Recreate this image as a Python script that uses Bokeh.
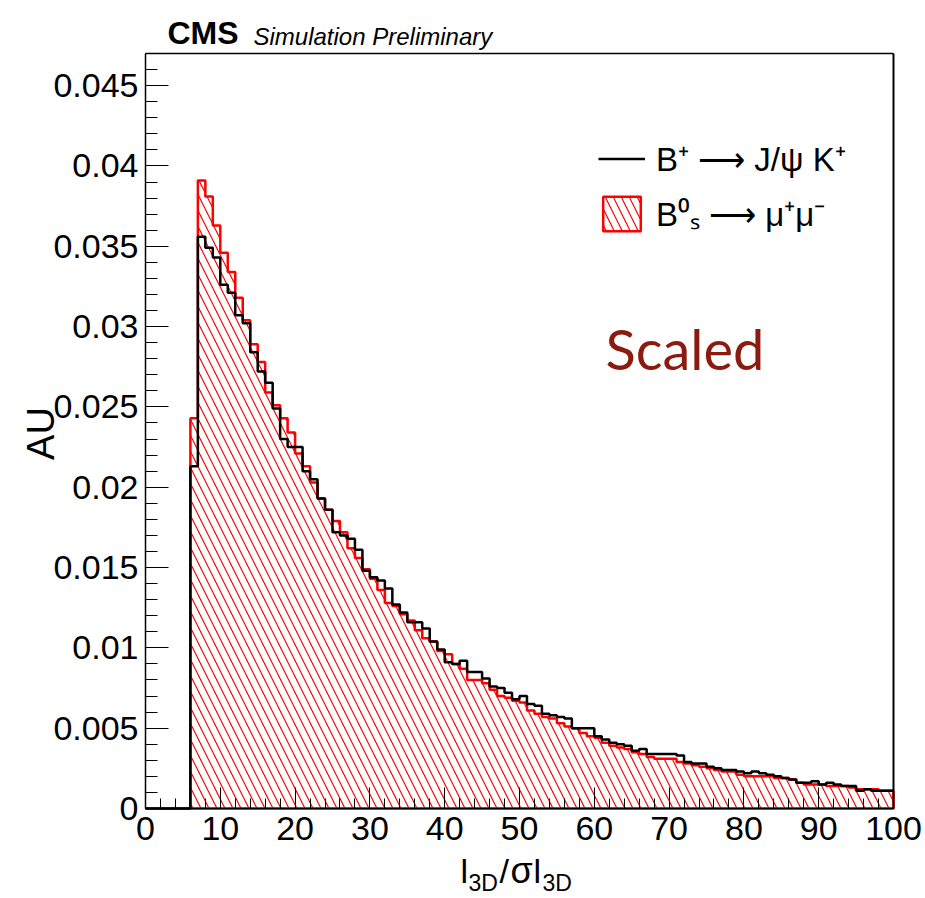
import numpy as np
from bokeh.plotting import figure
from bokeh.models import (Range1d, FixedTicker, CustomJSTickFormatter,
                          Label, Legend, LegendItem, LinearAxis)
from bokeh.embed import file_html
from bokeh.resources import INLINE

# ---------------- data ----------------
bin_edges = list(range(0, 101))          # 100 bins of width 1, 0..100
# B+ -> J/psi K+   (bins 0..99)
bplus = [0, 0, 0, 0, 0, 0,
         0.0213, 0.0356, 0.0349, 0.0343, 0.0326, 0.0321, 0.0307, 0.0302, 0.0284, 0.0272,
         0.0265, 0.0249, 0.0230, 0.0225, 0.0225, 0.0210, 0.0205, 0.0193, 0.0186, 0.0172,
         0.0170, 0.0168, 0.0161, 0.0148, 0.0144, 0.0142, 0.0137, 0.0127, 0.0122, 0.0116,
         0.0116, 0.0112, 0.0104, 0.0099, 0.0091, 0.0090, 0.0092, 0.0085, 0.0085, 0.0081,
         0.0076, 0.0075, 0.0072, 0.0068, 0.0070, 0.0065, 0.0064, 0.0059, 0.0058, 0.0057,
         0.0056, 0.0050, 0.0050, 0.0050, 0.0045, 0.0043, 0.0041, 0.0040, 0.0039, 0.0036,
         0.0037, 0.0034, 0.0034, 0.0034, 0.0034, 0.0033, 0.0029, 0.0028, 0.0028, 0.0026,
         0.0025, 0.0024, 0.0024, 0.0023, 0.0022, 0.0023, 0.0022, 0.0021, 0.0020, 0.0019,
         0.0018, 0.0016, 0.0016, 0.0017, 0.0015, 0.0016, 0.0015, 0.0014, 0.0014, 0.0011,
         0.0012, 0.0011, 0.0011, 0.0011]
# Bs0 -> mu+ mu-   (bins 0..99)
bsmumu = [0, 0, 0, 0, 0, 0,
          0.0243, 0.0391, 0.0381, 0.0363, 0.0346, 0.0334, 0.0318, 0.0304, 0.0289, 0.0278,
          0.0259, 0.0251, 0.0243, 0.0234, 0.0221, 0.0213, 0.0203, 0.0193, 0.0186, 0.0179,
          0.0172, 0.0162, 0.0156, 0.0149, 0.0143, 0.0136, 0.0128, 0.0126, 0.0121, 0.0117,
          0.0111, 0.0106, 0.0104, 0.0098, 0.0096, 0.0090, 0.0087, 0.0080, 0.0080, 0.0078,
          0.0074, 0.0070, 0.0069, 0.0067, 0.0066, 0.0061, 0.0059, 0.0057, 0.0056, 0.0053,
          0.0051, 0.0050, 0.0047, 0.0045, 0.0044, 0.0041, 0.0039, 0.0038, 0.0037, 0.0035,
          0.0034, 0.0032, 0.0031, 0.0031, 0.0031, 0.0029, 0.0028, 0.0027, 0.0026, 0.0025,
          0.0024, 0.0023, 0.0023, 0.0021, 0.0020, 0.0020, 0.0020, 0.0020, 0.0019, 0.0019,
          0.0018, 0.0016, 0.0015, 0.0015, 0.0015, 0.0014, 0.0014, 0.0014, 0.0013, 0.0012,
          0.0012, 0.0012, 0.0011, 0.0011]
label_bplus = "B⁺ ⟶ J/ψ K⁺"
label_bs = "B⁰ₛ ⟶ μ⁺μ⁻"
x_major_ticks = list(range(0, 101, 10))
x_minor_ticks = list(range(0, 101, 2))
y_major_ticks = [0, 0.005, 0.01, 0.015, 0.02, 0.025, 0.03, 0.035, 0.04, 0.045]
y_minor_ticks = [i / 1000 for i in range(0, 48)]
x_lim = (0, 100)
y_lim = (0, 0.047)

# ---------------- layout constants ----------------
W, H = 925, 898
FL, FR, FT, FB = 145, 893, 53, 808   # edges of the histogram box, in px

def px2x(px):
    return x_lim[0] + (px - FL) / (FR - FL) * (x_lim[1] - x_lim[0])

def px2y(py):
    return y_lim[0] + (FB - py) / (FB - FT) * (y_lim[1] - y_lim[0])

FONT = "Liberation Sans"

# the plotting frame covers the whole canvas so no text gets clipped;
# the histogram box is drawn by axes placed at fixed locations.
p = figure(width=W, height=H, output_backend="svg", toolbar_location=None,
           x_range=Range1d(px2x(0), px2x(W)), y_range=Range1d(px2y(H), px2y(0)),
           min_border=0)
p.xgrid.visible = False
p.ygrid.visible = False
p.background_fill_color = "white"
p.border_fill_color = "white"
p.outline_line_color = None

xa = p.xaxis[0]
ya = p.yaxis[0]
xa.fixed_location = y_lim[0]
ya.fixed_location = x_lim[0]
xa.bounds = x_lim
ya.bounds = y_lim
xa.ticker = FixedTicker(ticks=x_major_ticks, minor_ticks=x_minor_ticks)
ya.ticker = FixedTicker(ticks=y_major_ticks, minor_ticks=y_minor_ticks)
ya.formatter = CustomJSTickFormatter(
    code="return tick == 0 ? '0' : String(parseFloat(tick.toFixed(4)));")
for ax in (xa, ya):
    ax.axis_line_color = "black"
    ax.axis_line_width = 1.5
    ax.major_tick_out = 0
    ax.minor_tick_out = 0
    ax.major_tick_line_color = "black"
    ax.minor_tick_line_color = "black"
    ax.major_tick_line_width = 1
    ax.minor_tick_line_width = 1
    ax.major_label_text_font = FONT
    ax.major_label_text_font_size = "34px"
    ax.major_label_text_color = "black"
xa.major_tick_in = 21
xa.minor_tick_in = 10
ya.major_tick_in = 23
ya.minor_tick_in = 12
xa.major_label_standoff = 8
ya.major_label_standoff = 7

# top and right edges of the box
top_ax = LinearAxis(fixed_location=y_lim[1], bounds=x_lim, ticker=FixedTicker(ticks=[]),
                    major_label_text_alpha=0, axis_line_width=1.5, axis_line_color="black")
right_ax = LinearAxis(fixed_location=x_lim[1], bounds=y_lim, ticker=FixedTicker(ticks=[]),
                      major_label_text_alpha=0, axis_line_width=2, axis_line_color="black")
p.add_layout(top_ax, "above")
p.add_layout(right_ax, "right")

# ---------------- histograms ----------------
edges = np.array(bin_edges, dtype=float)
red_vals = np.array(bsmumu)
stair_x = np.concatenate([[edges[0]], np.repeat(edges[1:-1], 2), [edges[-1]], [edges[-1], edges[0]]])
stair_y = np.concatenate([np.repeat(red_vals, 2), [0, 0]])
red_patch = p.patch(x=stair_x, y=stair_y, fill_color=None, fill_alpha=0,
                    line_color="red", line_width=2.5,
                    hatch_pattern="\\", hatch_color="red", hatch_scale=16, hatch_weight=1.2)
black_step = p.step(x=bin_edges, y=bplus + [bplus[-1]], mode="after",
                    line_color="black", line_width=2.5)

legend = Legend(items=[LegendItem(label=label_bplus, renderers=[black_step]),
                       LegendItem(label=label_bs, renderers=[red_patch])],
                location=(598, H - 236),
                glyph_width=47, glyph_height=43, spacing=10, padding=0, margin=0,
                label_standoff=11, label_text_font=FONT, label_text_font_size="33px",
                label_text_color="black",
                background_fill_alpha=0, border_line_alpha=0)
p.add_layout(legend)

# ---------------- texts ----------------
K = 0.39   # baseline correction (fraction of font size)

def add_text(txt, px, py, fs, font=FONT, style="normal", color="black", **kw):
    p.add_layout(Label(x=px2x(px), y=px2y(py - K * fs), text=txt, text_font=font,
                       text_font_style=style, text_font_size=f"{fs}px",
                       text_color=color, text_baseline="alphabetic", **kw))

add_text("CMS", 167, 45, 32, style="bold")
add_text("Simulation Preliminary", 253, 45, 24, style="italic")
add_text("Scaled", 605, 370, 56, font="Lato", color="#8b1a0f")
p.add_layout(Label(x=px2x(40), y=px2y(433), text="AU", text_font=FONT,
                   text_font_size="38px", text_color="black", angle=np.pi / 2,
                   text_align="center", text_baseline="middle"))

# x-axis title  l_{3D}/σl_{3D}
for txt, px, py, fs in [("l", 460, 884, 34), ("3D", 468, 891, 23),
                        ("/", 499, 884, 34), ("σ", 510, 884, 36),
                        ("l", 533, 884, 34), ("3D", 542, 891, 23)]:
    add_text(txt, px, py, fs)

open("out.html", "w").write(file_html(p, INLINE))
